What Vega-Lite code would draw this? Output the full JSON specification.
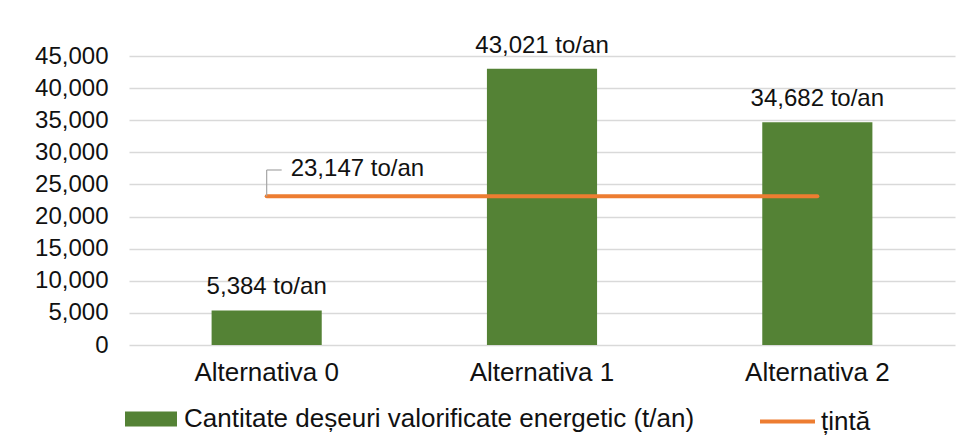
{
  "$schema": "https://vega.github.io/schema/vega-lite/v6.json",
  "width": 826,
  "height": 289,
  "autosize": {"type": "none"},
  "padding": {"left": 129, "top": 56, "right": 2, "bottom": 95},
  "background": "white",
  "config": {
    "font": "Liberation Sans",
    "view": {"stroke": null},
    "axis": {"labelFont": "Liberation Sans", "labelColor": "#111111"},
    "axisY": {"title": null, "values": [0, 5000, 10000, 15000, 20000, 25000, 30000, 35000, 40000, 45000], "format": ",.0f", "labelFontSize": 24, "ticks": false, "domain": false, "labelPadding": 21, "gridColor": "#d9d9d9", "gridWidth": 1.5},
    "legend": {"padding": 0, "labelFont": "Liberation Sans", "labelColor": "#111111", "labelFontSize": 26, "labelLimit": 700}
  },
  "data": {
    "values": [
      {"alt": "Alternativa 0", "value": 5384, "target": 23147},
      {"alt": "Alternativa 1", "value": 43021, "target": 23147},
      {"alt": "Alternativa 2", "value": 34682, "target": 23147}
    ]
  },
  "transform": [
    {"calculate": "'Cantitate deșeuri valorificate energetic (t/an)'", "as": "s1"},
    {"calculate": "'țintă'", "as": "s2"}
  ],
  "encoding": {
    "x": {
      "field": "alt",
      "type": "nominal",
      "scale": {"paddingInner": 0.6, "paddingOuter": 0.3},
      "axis": {"title": null, "labelAngle": 0, "labelFontSize": 26, "ticks": false, "domain": false, "labelPadding": 14, "grid": false}
    }
  },
  "layer": [
    {
      "mark": {"type": "bar", "cornerRadius": 0},
      "encoding": {
        "y": {
          "field": "value",
          "type": "quantitative",
          "scale": {"domain": [0, 45000], "nice": false},
          "axis": {"title": null, "values": [0, 5000, 10000, 15000, 20000, 25000, 30000, 35000, 40000, 45000], "format": ",.0f"}
        },
        "fill": {
          "field": "s1",
          "type": "nominal",
          "scale": {"range": ["#548235"]},
          "legend": {"title": null, "orient": "none", "legendX": -4, "legendY": 337, "symbolType": "M-1,-0.29H1V0.29H-1Z", "symbolSize": 2704, "symbolStrokeWidth": 0, "symbolOpacity": 1, "labelOffset": 7}
        }
      }
    },
    {
      "mark": {"type": "text", "baseline": "alphabetic", "dy": -16, "fontSize": 24, "color": "#111111"},
      "transform": [{"calculate": "format(datum.value, ',') + ' to/an'", "as": "label"}],
      "encoding": {
        "y": {"field": "value", "type": "quantitative", "axis": {"title": null, "values": [0, 5000, 10000, 15000, 20000, 25000, 30000, 35000, 40000, 45000], "format": ",.0f"}},
        "text": {"field": "label"}
      }
    },
    {
      "mark": {"type": "line", "strokeWidth": 4, "strokeCap": "round"},
      "encoding": {
        "y": {"field": "target", "type": "quantitative", "axis": {"title": null, "values": [0, 5000, 10000, 15000, 20000, 25000, 30000, 35000, 40000, 45000], "format": ",.0f"}},
        "stroke": {
          "field": "s2",
          "type": "nominal",
          "scale": {"range": ["#ED7D31"]},
          "legend": {"title": null, "orient": "none", "legendX": 629, "legendY": 336, "symbolType": "stroke", "symbolSize": 3025, "symbolStrokeWidth": 4, "labelOffset": 4}
        }
      }
    },
    {
      "transform": [{"filter": "datum.alt === 'Alternativa 0'"}, {"calculate": "27250", "as": "top"}],
      "mark": {"type": "rule", "color": "#a6a6a6", "strokeWidth": 1.2},
      "encoding": {
        "y": {"field": "target", "type": "quantitative", "axis": {"title": null, "values": [0, 5000, 10000, 15000, 20000, 25000, 30000, 35000, 40000, 45000], "format": ",.0f"}},
        "y2": {"field": "top"}
      }
    },
    {
      "transform": [{"filter": "datum.alt === 'Alternativa 0'"}, {"calculate": "27250", "as": "top"}],
      "mark": {"type": "rule", "color": "#a6a6a6", "strokeWidth": 1.2, "x2Offset": 15},
      "encoding": {
        "y": {"field": "top", "type": "quantitative", "axis": {"title": null, "values": [0, 5000, 10000, 15000, 20000, 25000, 30000, 35000, 40000, 45000], "format": ",.0f"}},
        "x2": {"field": "alt"}
      }
    },
    {
      "transform": [{"filter": "datum.alt === 'Alternativa 0'"}, {"calculate": "format(datum.target, ',') + ' to/an'", "as": "label"}],
      "mark": {"type": "text", "align": "left", "baseline": "alphabetic", "dx": 24, "dy": -20, "fontSize": 24, "color": "#111111"},
      "encoding": {
        "y": {"field": "target", "type": "quantitative", "axis": {"title": null, "values": [0, 5000, 10000, 15000, 20000, 25000, 30000, 35000, 40000, 45000], "format": ",.0f"}},
        "text": {"field": "label"}
      }
    }
  ]
}
